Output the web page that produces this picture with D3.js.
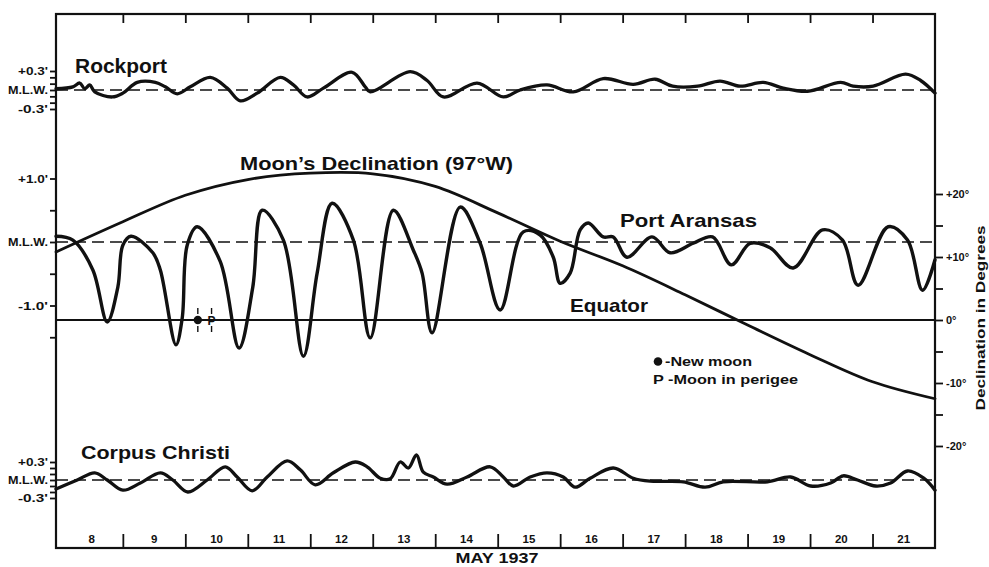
<!DOCTYPE html>
<html>
<head>
<meta charset="utf-8">
<script src="https://cdn.jsdelivr.net/npm/d3@7/dist/d3.min.js"></script>
<style>
  html, body { margin: 0; padding: 0; background: #fff; }
  svg { display: block; }
  text { font-family: "Liberation Sans", Arial, sans-serif; font-weight: bold; fill: #111; }
</style>
</head>
<body>
<svg id="chart" width="989" height="567"></svg>
<script>
// ---- Data: time in days of May 1937, water level in feet relative to M.L.W. ----
const dayLabels = ["8","9","10","11","12","13","14","15","16","17","18","19","20","21"];
const dayBoundaries = [9,10,11,12,13,14,15,16,17,18,19,20,21];

const rockportDays = [7.93,8.20,8.31,8.39,8.47,8.55,8.83,9.00,9.23,9.52,9.68,9.87,10.08,10.40,10.67,10.88,11.15,11.52,11.73,11.95,12.21,12.67,12.88,12.96,13.60,13.87,14.13,14.67,15.09,15.36,15.79,16.21,16.69,17.17,17.52,17.80,18.20,18.56,18.88,19.25,19.57,19.96,20.49,20.69,21.01,21.53,21.77,22.0];
const rockportFeet = [0.02,0.05,0.11,0.02,0.08,-0.03,-0.11,-0.05,0.12,0.12,0.05,-0.06,0.05,0.20,0.03,-0.17,-0.05,0.20,0.08,-0.11,0.03,0.28,0.05,-0.03,0.29,0.15,-0.11,0.11,-0.11,0.00,0.08,-0.03,0.18,0.09,0.17,0.06,0.06,0.14,0.06,0.12,0.03,-0.02,0.12,0.06,0.06,0.25,0.15,-0.05];

const aransasDays = [7.93,8.20,8.52,8.75,8.92,9.00,9.13,9.48,9.60,9.85,9.95,10.03,10.19,10.56,10.86,11.08,11.23,11.57,11.89,12.11,12.35,12.69,12.96,13.33,13.65,13.79,13.95,14.40,14.72,15.04,15.41,15.68,15.89,16.00,16.16,16.32,16.45,16.69,16.85,17.07,17.47,17.76,18.13,18.44,18.74,19.04,19.36,19.73,20.20,20.52,20.77,21.25,21.56,21.80,22.0];
const aransasFeet = [0.09,0.03,-0.44,-1.26,-0.71,-0.05,0.09,-0.17,-0.44,-1.62,-1.20,-0.05,0.24,-0.31,-1.67,-0.71,0.50,0.03,-1.80,-0.49,0.61,0.03,-1.51,0.50,-0.13,-0.49,-1.43,0.55,-0.02,-1.07,0.16,0.11,-0.24,-0.65,-0.49,0.19,0.30,0.08,0.08,-0.24,0.08,-0.17,-0.02,0.08,-0.36,-0.02,-0.09,-0.41,0.19,0.03,-0.68,0.24,0.03,-0.76,-0.28];

const corpusDays = [7.93,8.27,8.55,8.75,9.00,9.28,9.60,9.80,10.04,10.35,10.64,10.83,11.07,11.31,11.63,11.84,12.08,12.37,12.72,12.91,13.12,13.28,13.44,13.57,13.70,13.81,13.97,14.19,14.51,14.88,15.09,15.25,15.52,15.79,16.05,16.24,16.48,16.85,17.17,17.44,17.97,18.32,18.61,19.32,19.69,20.01,20.33,20.53,20.76,21.05,21.29,21.56,21.82,22.0];
const corpusFeet = [-0.15,0.00,0.12,0.00,-0.17,-0.05,0.12,0.00,-0.20,0.00,0.22,0.05,-0.18,0.05,0.32,0.17,-0.08,0.12,0.30,0.22,0.03,0.02,0.30,0.20,0.42,0.13,0.05,-0.07,0.05,0.22,0.05,-0.10,0.05,0.12,0.05,-0.12,0.03,0.20,0.03,-0.02,-0.03,-0.12,-0.03,-0.03,0.05,-0.10,-0.05,0.07,0.00,-0.10,-0.05,0.15,0.03,-0.17];

// Moon's declination (degrees) at 97° W
const declDays = [7.93,9,10,11,12,13,14,15,16,17,18,19,20,21,22];
const declDegrees = [10.8,15.6,19.8,22.3,23.3,23.2,21.2,17.0,12.5,8.6,4.0,-0.8,-5.5,-9.8,-12.5];

// Lunar events marked on the equator line
const eventSymbols = ["●","P"];
const eventDays = [10.2,10.42];

// Left-axis tick values and labels
const smallTicks = [-0.3,-0.2,-0.1,0,0.1,0.2,0.3];
const smallTickLabels = {"0.3":"+0.3'", "0":"M.L.W.", "-0.3":"-0.3'"};
const aransasTicks = [-1.5,-1.0,-0.5,0,0.5,1.0];
const aransasTickLabels = {"1":"+1.0'", "0":"M.L.W.", "-1":"-1.0'"};
const declTicks = [-20,-15,-10,-5,0,5,10,15,20];
const declTickLabels = {"20":"+20°","10":"+10°","0":"0°","-10":"-10°","-20":"-20°"};

// ---- Layout ----
const svg = d3.select("#chart");
const frameL = 56, frameR = 935, frameT = 14, frameB = 548;

const x = d3.scaleLinear().domain([7.93, 22]).range([frameL, frameR]);
const yRock = d3.scaleLinear().domain([-0.3, 0.3]).range([109, 71]);
const yAran = d3.scaleLinear().domain([-1, 1]).range([305.5, 178.5]);
const yCorp = d3.scaleLinear().domain([-0.3, 0.3]).range([498, 462]);
const yDecl = d3.scaleLinear().domain([-20, 20]).range([446, 194]);

const ink = "#111";

// frame
svg.append("rect").attr("x", frameL).attr("y", frameT)
  .attr("width", frameR - frameL).attr("height", frameB - frameT)
  .attr("fill", "none").attr("stroke", ink).attr("stroke-width", 2.2);

// bottom day axis: boundary ticks pointing up, day numbers between them
const bottomAxis = svg.append("g").attr("transform", `translate(0,${frameB})`)
  .call(d3.axisTop(x).tickValues(dayBoundaries).tickSize(14).tickFormat(""));
bottomAxis.select(".domain").remove();
bottomAxis.selectAll("line").attr("stroke", ink).attr("stroke-width", 1.8);

svg.append("g").selectAll("text").data(dayLabels).join("text")
  .attr("x", d => x(+d + 0.5)).attr("y", 543)
  .attr("text-anchor", "middle").attr("font-size", 11.5).text(d => d);

// top border ticks
const topAxis = svg.append("g").attr("transform", `translate(0,${frameT})`)
  .call(d3.axisBottom(x).tickValues(dayBoundaries).tickSize(9).tickFormat(""));
topAxis.select(".domain").remove();
topAxis.selectAll("line").attr("stroke", ink).attr("stroke-width", 1.8);

svg.append("text").attr("x", 497).attr("y", 563).attr("text-anchor", "middle")
  .attr("font-size", 15).attr("textLength", 83).attr("lengthAdjust", "spacingAndGlyphs")
  .text("MAY 1937");

// left axes for the three gauges; labels are stretched to the lettering's width
function leftAxis(scale, ticks, labels, fontSize) {
  const g = svg.append("g").attr("transform", `translate(${frameL},0)`)
    .call(d3.axisLeft(scale).tickValues(ticks).tickSize(6).tickPadding(2)
      .tickFormat(d => labels[String(+d.toFixed(1))] || ""));
  g.select(".domain").remove();
  g.selectAll("line").attr("stroke", ink).attr("stroke-width", 1.8);
  g.selectAll("text").attr("font-size", fontSize).attr("font-family", null)
    .attr("fill", ink)
    .each(function () {
      const t = d3.select(this).text();
      if (t) d3.select(this).attr("textLength", t === "M.L.W." ? 40 : 30)
        .attr("lengthAdjust", "spacingAndGlyphs");
    });
  return g;
}
leftAxis(yRock, smallTicks, smallTickLabels, 10);
leftAxis(yAran, aransasTicks, aransasTickLabels, 11);
leftAxis(yCorp, smallTicks, smallTickLabels, 10);

// right declination axis
const rAxis = svg.append("g").attr("transform", `translate(${frameR},0)`)
  .call(d3.axisRight(yDecl).tickValues(declTicks).tickSize(8).tickPadding(3)
    .tickFormat(d => declTickLabels[String(d)] || ""));
rAxis.select(".domain").remove();
rAxis.selectAll("line").attr("stroke", ink).attr("stroke-width", 1.8);
rAxis.selectAll("text").attr("font-size", 11).attr("font-family", null).attr("fill", ink);

svg.append("text")
  .attr("transform", "translate(985,318) rotate(-90)")
  .attr("text-anchor", "middle").attr("font-size", 13)
  .attr("textLength", 185).attr("lengthAdjust", "spacingAndGlyphs")
  .text("Declination in Degrees");

// M.L.W. dashed reference lines
[yRock, yAran, yCorp].forEach(s => {
  svg.append("line").attr("x1", frameL).attr("x2", frameR)
    .attr("y1", s(0)).attr("y2", s(0))
    .attr("stroke", ink).attr("stroke-width", 1.7).attr("stroke-dasharray", "12,6");
});

// equator (0° declination)
svg.append("line").attr("x1", frameL).attr("x2", frameR)
  .attr("y1", yDecl(0)).attr("y2", yDecl(0))
  .attr("stroke", ink).attr("stroke-width", 1.9);

// curves
const curve = d3.curveCatmullRom.alpha(0.5);
function drawSeries(days, vals, yScale, width) {
  const pts = days.map((d, i) => [d, vals[i]]);
  svg.append("path").datum(pts)
    .attr("d", d3.line().x(p => x(p[0])).y(p => yScale(p[1])).curve(curve))
    .attr("fill", "none").attr("stroke", ink).attr("stroke-width", width)
    .attr("stroke-linejoin", "round").attr("stroke-linecap", "round");
}
drawSeries(declDays, declDegrees, yDecl, 2.8);
drawSeries(rockportDays, rockportFeet, yRock, 3.3);
drawSeries(aransasDays, aransasFeet, yAran, 3.4);
drawSeries(corpusDays, corpusFeet, yCorp, 3.3);

// new moon / perigee marks on the equator
const ev = svg.append("g");
eventSymbols.forEach((s, i) => {
  const ex = x(eventDays[i]), ey = yDecl(0);
  ev.append("line").attr("x1", ex).attr("x2", ex).attr("y1", ey - 12).attr("y2", ey - 6)
    .attr("stroke", ink).attr("stroke-width", 1.4);
  ev.append("line").attr("x1", ex).attr("x2", ex).attr("y1", ey + 6).attr("y2", ey + 12)
    .attr("stroke", ink).attr("stroke-width", 1.4);
  if (s === "●") {
    ev.append("circle").attr("cx", ex).attr("cy", ey).attr("r", 4.2).attr("fill", ink);
  } else {
    ev.append("text").attr("x", ex).attr("y", ey + 4.5).attr("text-anchor", "middle")
      .attr("font-size", 12).text(s);
  }
});

// titles and labels
function label(txt, lx, ly, size, len) {
  svg.append("text").attr("x", lx).attr("y", ly).attr("font-size", size)
    .attr("textLength", len).attr("lengthAdjust", "spacingAndGlyphs").text(txt);
}
label("Rockport", 75, 73, 20, 92);
label("Moon\u2019s Declination (97°W)", 240, 170, 19, 273);
label("Port Aransas", 620, 227, 19, 137);
label("Equator", 570, 312, 19, 78);
label("Corpus Christi", 81, 459, 19, 149);

// legend: filled dot for new moon, letter P for perigee
svg.append("circle").attr("cx", 658).attr("cy", 361.5).attr("r", 4.3).attr("fill", ink);
label("-New moon", 665, 366, 13, 87);
label("P -Moon in perigee", 653, 384, 13, 145);
</script>
</body>
</html>
